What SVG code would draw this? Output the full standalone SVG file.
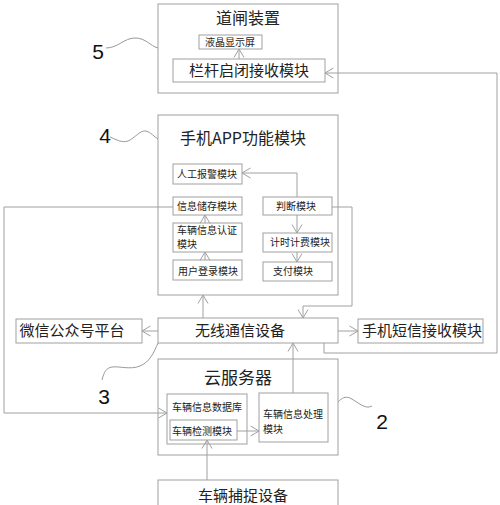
<svg xmlns="http://www.w3.org/2000/svg" width="500" height="505" viewBox="0 0 500 505">
<style>
.box{fill:#fff;stroke:#a0a0a0;stroke-width:1}
.ln{fill:none;stroke:#a0a0a0;stroke-width:1}
.cv{fill:none;stroke:#999;stroke-width:1}
text{font-family:"Noto Sans CJK SC","Noto Sans",sans-serif;fill:#222}
.t16{font-size:16px;text-anchor:middle}
.t15{font-size:15px;text-anchor:middle}
.t10{font-size:10px}
.c{text-anchor:middle}
.num{font-family:"Liberation Sans",Arial,sans-serif;font-size:21px;text-anchor:middle;fill:#111}
</style>
<defs>
<marker id="ar" viewBox="0 0 10 12" refX="9.5" refY="6" markerWidth="10" markerHeight="12" markerUnits="userSpaceOnUse" orient="auto">
<path d="M1,1 L9.5,6 L1,11" fill="none" stroke="#a0a0a0" stroke-width="1"/>
</marker>
</defs>
<rect width="500" height="505" fill="#fff"/>

<g id="gate">
<rect class="box" x="158" y="4" width="180" height="89"/>
<text class="t16" x="248" y="24">道闸装置</text>
</g>
<g id="lcd">
<rect class="box" x="199" y="35" width="63" height="14"/>
<text class="t10 c" x="230" y="46">液晶显示屏</text>
</g>
<g id="barrier">
<rect class="box" x="173" y="59" width="152" height="23"/>
<text class="t15" x="249" y="76">栏杆启闭接收模块</text>
</g>

<g id="app">
<rect class="box" x="158" y="115" width="180" height="180"/>
<text class="t16" x="243" y="144">手机APP功能模块</text>
</g>
<g id="alarm">
<rect class="box" x="173" y="164" width="69" height="20"/>
<text class="t10 c" x="207" y="178">人工报警模块</text>
</g>
<g id="store">
<rect class="box" x="173" y="197" width="69" height="18"/>
<text class="t10 c" x="207" y="210">信息储存模块</text>
</g>
<g id="auth">
<rect class="box" x="173" y="223" width="69" height="29"/>
<text class="t10" x="177" y="233.5">车辆信息认证</text>
<text class="t10" x="177" y="248">模块</text>
</g>
<g id="login">
<rect class="box" x="173" y="260" width="69" height="20"/>
<text class="t10 c" x="208" y="275">用户登录模块</text>
</g>
<g id="judge">
<rect class="box" x="263" y="197" width="69" height="18"/>
<text class="t10 c" x="296" y="210">判断模块</text>
</g>
<g id="timer">
<rect class="box" x="263" y="233" width="69" height="19"/>
<text class="t10 c" x="300" y="246">计时计费模块</text>
</g>
<g id="pay">
<rect class="box" x="263" y="262" width="69" height="19"/>
<text class="t10" x="273" y="275">支付模块</text>
</g>

<g id="wireless">
<rect class="box" x="158" y="318" width="180" height="25"/>
<text class="t15" x="240" y="336">无线通信设备</text>
</g>
<g id="wechat">
<rect class="box" x="16" y="319" width="126" height="24"/>
<text class="t15" x="72" y="336">微信公众号平台</text>
</g>
<g id="sms">
<rect class="box" x="358" y="319" width="125" height="24"/>
<text class="t15" x="422" y="336">手机短信接收模块</text>
</g>

<g id="cloud">
<rect class="box" x="158" y="359" width="180" height="96"/>
<text x="238" y="384" style="font-size:17px;text-anchor:middle">云服务器</text>
</g>
<g id="db">
<rect class="box" x="167" y="394" width="80" height="50"/>
<text class="t10 c" x="207" y="411">车辆信息数据库</text>
</g>
<g id="detect">
<rect class="box" x="170" y="420" width="67" height="20"/>
<text class="t10 c" x="202" y="435">车辆检测模块</text>
</g>
<g id="process">
<rect class="box" x="259" y="393" width="69" height="49"/>
<text class="t10" x="263" y="418">车辆信息处理</text>
<text class="t10" x="263" y="433">模块</text>
</g>
<g id="capture">
<rect class="box" x="158" y="480" width="180" height="40"/>
<text class="t15" x="243" y="501">车辆捕捉设备</text>
</g>

<g id="connectors">
<path class="ln" d="M239,59 L239,49" marker-end="url(#ar)"/>
<path class="ln" d="M324,343 L324,353 L497,353 L497,73 L325,73" marker-end="url(#ar)"/>
<path class="ln" d="M297,197 L297,173 L242,173" marker-end="url(#ar)"/>
<path class="ln" d="M297,215 L297,233" marker-end="url(#ar)"/>
<path class="ln" d="M297,252 L297,262" marker-end="url(#ar)"/>
<path class="ln" d="M205,260 L205,252" marker-end="url(#ar)"/>
<path class="ln" d="M205,223 L205,215" marker-end="url(#ar)"/>
<path class="ln" d="M173,207 L4,207 L4,413 L167,413" marker-end="url(#ar)"/>
<path class="ln" d="M332,207 L352,207 L352,306 L303,306 L303,318" marker-end="url(#ar)"/>
<path class="ln" d="M203,318 L203,295" marker-end="url(#ar)"/>
<path class="ln" d="M158,331 L142,331" marker-end="url(#ar)"/>
<path class="ln" d="M338,331 L358,331" marker-end="url(#ar)"/>
<path class="ln" d="M293,393 L293,343" marker-end="url(#ar)"/>
<path class="ln" d="M237,431 L259,431" marker-end="url(#ar)"/>
<path class="ln" d="M207,480 L207,440" marker-end="url(#ar)"/>
</g>

<g id="callouts">
<path class="cv" d="M106,48 C118,48 124,38 135,38 C146,38 150,46 158,48"/>
<text class="num" x="98" y="59">5</text>
<path class="cv" d="M110,137 C117,140 122,143 128,141 C135,138 140,130 146,131 C151,132 154,137 158,139"/>
<text class="num" x="105" y="143">4</text>
<path class="cv" d="M102,380 C104,372 106,368 112,367 C120,366 130,370 140,366 C150,362 154,352 158,343"/>
<text class="num" x="104" y="404">3</text>
<path class="cv" d="M338,402 C342,398 345,396 350,398 C358,402 365,410 372,406"/>
<text class="num" x="382" y="429">2</text>
</g>
</svg>
